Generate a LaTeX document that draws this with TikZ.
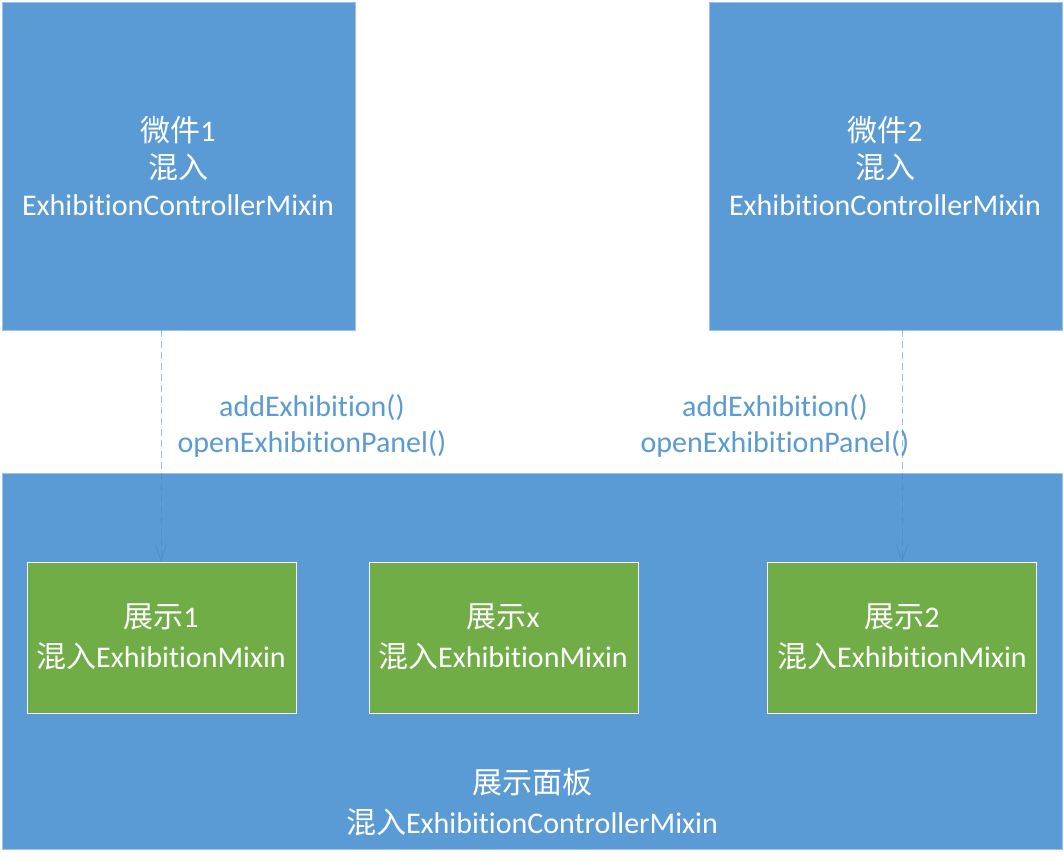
\documentclass[tikz,border=0pt]{standalone}
\usepackage{fontspec}
\setmainfont[Ligatures={NoCommon}]{Carlito}
\newfontfamily\cjk{Noto Sans CJK SC}
\usetikzlibrary{arrows.meta}
\definecolor{boxblue}{HTML}{5B9BD5}
\definecolor{boxedge}{HTML}{9DC3E6}
\definecolor{boxgreen}{HTML}{70AD47}
\definecolor{arrowcol}{RGB}{70,130,190}
\tikzset{
  x=1pt, y=-1pt,
  bluebox/.style={fill=boxblue, draw=boxedge, line width=0.8pt},
  greenbox/.style={fill=boxgreen, draw=white, line width=0.8pt},
  boxtext/.style={text=white, font=\fontsize{30}{37}\selectfont, align=center},
  widetext/.style={text=white, font=\fontsize{30}{40}\selectfont, align=center},
  lbltext/.style={text=boxblue, font=\fontsize{30}{36}\selectfont, align=center},
  conn/.style={draw=arrowcol, opacity=0.5, line width=1pt, dash pattern=on 7pt off 4pt,
    -{Straight Barb[length=16pt,width=11pt,line width=0.8pt]}}
}
\begin{document}
\begin{tikzpicture}
\useasboundingbox (0,0) rectangle (1064,857);
\fill[white] (0,0) rectangle (1064,857);
% panel
\draw[bluebox] (2,473) rectangle (1062,849);
\node[widetext] (panel) at (532,802) {{\cjk 展示面板}\\{\cjk 混入}ExhibitionControllerMixin};
% top boxes
\draw[bluebox] (2,2) rectangle (355,330);
\draw[bluebox] (709,2) rectangle (1062,330);
\coordinate (w1bot) at (161,330);
\coordinate (w2bot) at (902,330);
\node[boxtext] (w1) at (178,166) {{\cjk 微件}1\\{\cjk 混入}\\ExhibitionControllerMixin};
\node[boxtext] (w2) at (885,166) {{\cjk 微件}2\\{\cjk 混入}\\ExhibitionControllerMixin};
% green boxes
\draw[greenbox] (27,562) rectangle (296,713);
\draw[greenbox] (369,562) rectangle (638,713);
\draw[greenbox] (767,562) rectangle (1036,713);
\coordinate (e1top) at (161,562);
\coordinate (e2top) at (902,562);
\node[widetext] (e1) at (161,637) {{\cjk 展示}1\\{\cjk 混入}ExhibitionMixin};
\node[widetext] (ex) at (503,637) {{\cjk 展示}x\\{\cjk 混入}ExhibitionMixin};
\node[widetext] (e2) at (902,637) {{\cjk 展示}2\\{\cjk 混入}ExhibitionMixin};
% labels
\node[lbltext] (l1) at (312,426) {addExhibition()\\openExhibitionPanel()};
\node[lbltext] (l2) at (775,426) {addExhibition()\\openExhibitionPanel()};
% connectors
\draw[conn] (w1bot) -- (e1top);
\draw[conn] (w2bot) -- (e2top);
\end{tikzpicture}
\end{document}
